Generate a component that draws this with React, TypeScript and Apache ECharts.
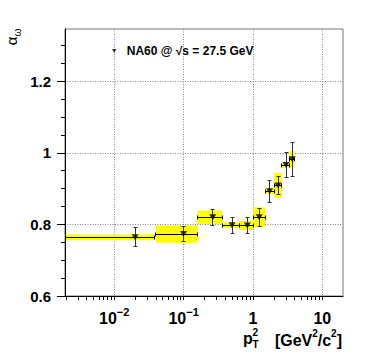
import React, { useEffect, useRef } from 'react';
import * as echarts from 'echarts';

// pT^2 bins (GeV^2/c^2)
const binLow = [0.002, 0.04, 0.16, 0.36, 0.63, 1.01, 1.5, 2.03, 2.62, 3.34];
const binHigh = [0.038, 0.16, 0.36, 0.63, 1.01, 1.5, 2.03, 2.62, 3.34, 3.98];
const ptCenter = [0.02, 0.1, 0.263, 0.5, 0.83, 1.23, 1.74, 2.3, 3.0, 3.69];
// alpha_omega values and uncertainties
const alphaOmega = [0.764, 0.773, 0.82, 0.798, 0.797, 0.82, 0.893, 0.909, 0.966, 0.982];
const statErr = [0.026, 0.021, 0.023, 0.022, 0.021, 0.025, 0.031, 0.025, 0.035, 0.048];
const systErr = [0.008, 0.024, 0.019, 0.008, 0.013, 0.027, 0.008, 0.035, 0.008, 0.023];

// axis ticks
const xMajorTicks = [0.01, 0.1, 1, 10];
const xMinorTicks = [
  0.002, 0.003, 0.004, 0.005, 0.006, 0.007, 0.008, 0.009,
  0.02, 0.03, 0.04, 0.05, 0.06, 0.07, 0.08, 0.09,
  0.2, 0.3, 0.4, 0.5, 0.6, 0.7, 0.8, 0.9,
  2, 3, 4, 5, 6, 7, 8, 9,
];
const yMajorTicks = [0.6, 0.8, 1.0, 1.2];
const yMinorTicks = [0.65, 0.7, 0.75, 0.85, 0.9, 0.95, 1.05, 1.1, 1.15, 1.25, 1.3];

const seriesName = 'NA60 @ √s = 27.5 GeV';
const FONT = '"Liberation Sans", Arial, Helvetica, sans-serif';
const X_MIN = 0.00195;
const X_MAX = 19.9;
const Y_MIN = 0.6;
const Y_MAX = 1.346;
const TRI = 'path://M0,0L10,0L5,9Z';

export default function App() {
  const ref = useRef<HTMLDivElement>(null);
  useEffect(() => {
    if (!ref.current) return;
    const chart = echarts.init(ref.current, undefined, { renderer: 'svg' });
    const rows = binLow.map((lo, i) => [lo, binHigh[i], ptCenter[i], alphaOmega[i], systErr[i], statErr[i]]);
    const r = (v: number) => Math.round(v - 0.5) + 0.5;

    const xLabelFmt = (v: number) => {
      if (Math.abs(v - 0.01) < 1e-6) return '{b|10}{s|−2}';
      if (Math.abs(v - 0.1) < 1e-6) return '{b|10}{s|−1}';
      if (Math.abs(v - 1) < 1e-6) return '{b|1}';
      return '{b|10}';
    };

    const option: any = {
      animation: false,
      grid: { left: 65, top: 29, right: 23, bottom: 57, show: true, borderColor: '#777', borderWidth: 1, containLabel: false, outerBoundsMode: 'none' },
      legend: {
        show: true,
        data: [{ name: seriesName, icon: TRI }],
        left: 112,
        top: 45,
        padding: 0,
        itemWidth: 15,
        itemHeight: 4,
        selectedMode: false,
        textStyle: { fontSize: 12, fontWeight: 'bold', color: '#000', fontFamily: FONT },
      },
      xAxis: [
        {
          type: 'log', logBase: 10, min: X_MIN, max: X_MAX, position: 'bottom',
          axisLine: { show: true, lineStyle: { color: '#000', width: 1 } },
          axisTick: { show: true, inside: false, length: 4, customValues: [...xMajorTicks, ...xMinorTicks], lineStyle: { color: '#000', width: 1 } },
          axisLabel: {
            show: true, customValues: xMajorTicks, margin: 10, formatter: xLabelFmt,
            rich: {
              b: { fontSize: 16, fontWeight: 'bold', color: '#000', fontFamily: FONT, lineHeight: 20, verticalAlign: 'bottom' },
              s: { fontSize: 11, fontWeight: 'bold', color: '#000', fontFamily: FONT, lineHeight: 10, verticalAlign: 'top' },
            },
          },
          splitLine: { show: false },
        },
        {
          type: 'log', logBase: 10, min: X_MIN, max: X_MAX, position: 'bottom',
          axisLine: { show: false }, axisLabel: { show: false },
          axisTick: { show: false, customValues: xMajorTicks },
          splitLine: { show: true, lineStyle: { color: '#888', width: 1, type: [1, 1.5] } },
        },
      ],
      yAxis: [
        {
          type: 'value', min: Y_MIN, max: Y_MAX, position: 'left',
          axisLine: { show: true, lineStyle: { color: '#000', width: 1 } },
          axisTick: { show: true, inside: false, length: 8, customValues: yMajorTicks, lineStyle: { color: '#000' } },
          axisLabel: {
            show: true, customValues: yMajorTicks, margin: 14,
            formatter: (v: number) => String(Math.round(v * 10) / 10),
            fontSize: 15, fontWeight: 'bold', color: '#000', fontFamily: FONT,
          },
          splitLine: { show: true, lineStyle: { color: '#888', width: 1, type: [1, 1.5] } },
        },
        {
          type: 'value', min: Y_MIN, max: Y_MAX, position: 'left',
          axisLine: { show: false }, axisLabel: { show: false },
          axisTick: { show: true, inside: false, length: 4, customValues: yMinorTicks, lineStyle: { color: '#000' } },
          splitLine: { show: false },
        },
      ],
      graphic: [
        {
          type: 'text', x: 13, y: 37, rotation: Math.PI / 2,
          style: {
            text: '{a|α}{w|ω}', align: 'center', verticalAlign: 'middle',
            rich: {
              a: { fontSize: 15, fontFamily: FONT, fill: '#000', lineHeight: 18, verticalAlign: 'top' },
              w: { fontSize: 10, fontFamily: FONT, fill: '#000', lineHeight: 10, verticalAlign: 'bottom' },
            },
          },
        },
        { type: 'text', x: 243, y: 338, style: { text: 'p', fontSize: 16, fontWeight: 'bold', fontFamily: FONT, fill: '#000', align: 'left', verticalAlign: 'middle' } },
        { type: 'text', x: 252.5, y: 332.5, style: { text: '2', fontSize: 10, fontWeight: 'bold', fontFamily: FONT, fill: '#000', align: 'left', verticalAlign: 'middle' } },
        { type: 'text', x: 252.5, y: 344, style: { text: 'T', fontSize: 10, fontWeight: 'bold', fontFamily: FONT, fill: '#000', align: 'left', verticalAlign: 'middle' } },
        {
          type: 'text', x: 342, y: 338,
          style: {
            text: '{m|[GeV}{s|2}{m|/c}{s|2}{m|]}', align: 'right', verticalAlign: 'middle',
            rich: {
              m: { fontSize: 16, fontWeight: 'bold', fontFamily: FONT, fill: '#000', lineHeight: 20, verticalAlign: 'bottom' },
              s: { fontSize: 10, fontWeight: 'bold', fontFamily: FONT, fill: '#000', lineHeight: 10, verticalAlign: 'top' },
            },
          },
        },
      ],
      series: [
        {
          type: 'custom', name: 'syst', xAxisIndex: 0, yAxisIndex: 0, z: 2,
          data: rows,
          encode: { x: [0, 1], y: 3 },
          renderItem: (_p: any, api: any) => {
            const y = api.value(3), s = api.value(4);
            const p0 = api.coord([api.value(0), y + s]);
            const p1 = api.coord([api.value(1), y - s]);
            return {
              type: 'rect',
              shape: { x: p0[0], y: p0[1], width: p1[0] - p0[0], height: p1[1] - p0[1] },
              style: { fill: '#ffff00', stroke: null },
            };
          },
        },
        {
          type: 'custom', name: 'stat', xAxisIndex: 0, yAxisIndex: 0, z: 3,
          data: rows,
          encode: { x: [0, 1], y: 3 },
          renderItem: (_p: any, api: any) => {
            const y = api.value(3), st = api.value(5), c = api.value(2);
            const pL = api.coord([api.value(0), y]);
            const pH = api.coord([api.value(1), y]);
            const pT = api.coord([c, y + st]);
            const pB = api.coord([c, y - st]);
            const hy = r(pL[1]);
            const vx = r(pT[0]);
            const sh = { stroke: '#000', lineWidth: 1, fill: null };
            const sv = { stroke: '#333', lineWidth: 1, fill: null };
            return {
              type: 'group',
              children: [
                { type: 'line', shape: { x1: pL[0], y1: hy, x2: pH[0], y2: hy }, style: sh },
                { type: 'line', shape: { x1: r(pL[0]), y1: hy - 2, x2: r(pL[0]), y2: hy + 2 }, style: sh },
                { type: 'line', shape: { x1: r(pH[0]), y1: hy - 2, x2: r(pH[0]), y2: hy + 2 }, style: sh },
                { type: 'line', shape: { x1: vx, y1: pT[1], x2: vx, y2: pB[1] }, style: sv },
                { type: 'line', shape: { x1: vx - 2, y1: r(pT[1]), x2: vx + 2, y2: r(pT[1]) }, style: sv },
                { type: 'line', shape: { x1: vx - 2, y1: r(pB[1]), x2: vx + 2, y2: r(pB[1]) }, style: sv },
              ],
            };
          },
        },
        {
          type: 'scatter', name: seriesName, xAxisIndex: 0, yAxisIndex: 0, z: 4,
          symbol: TRI, symbolSize: [7, 6],
          itemStyle: { color: '#000' },
          data: ptCenter.map((x, i) => [x, alphaOmega[i]]),
        },
      ],
    };
    chart.setOption(option);
    return () => chart.dispose();
  }, []);
  return <div ref={ref} style={{ position: 'fixed', left: 0, top: 0, width: 366, height: 353, background: '#fff' }} />;
}
